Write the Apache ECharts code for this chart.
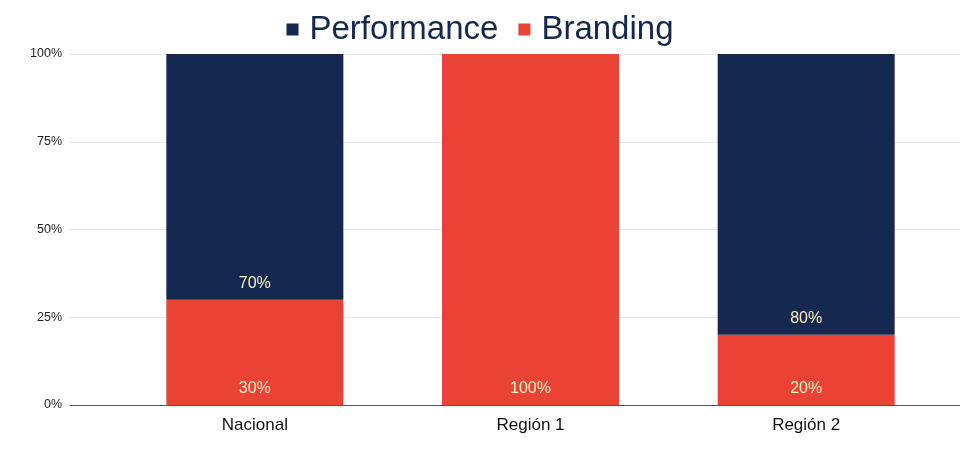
<!DOCTYPE html>
<html><head><meta charset="utf-8">
<script src="https://cdn.jsdelivr.net/npm/echarts@6/dist/echarts.min.js"></script>
<style>html,body{margin:0;padding:0;background:#fff}#c{width:960px;height:452px}</style>
</head><body><div id="c"></div>
<script>
const categories = ['Nacional', 'Región 1', 'Región 2'];
const branding = [30, 100, 20];
const performance = [70, 0, 80];
const yTicks = [0, 25, 50, 75, 100];

const F = 'Liberation Sans, Arial, sans-serif';
const chart = echarts.init(document.getElementById('c'));
const lbl = {
  show: true, position: 'insideBottom', distance: 8,
  color: '#fbf1c6', fontSize: 16, fontFamily: F,
  formatter: p => p.value > 0 ? p.value + '%' : ''
};
chart.setOption({
  animation: false,
  legend: {
    top: 8, left: 'center', itemWidth: 12, itemHeight: 12, itemGap: 20,
    icon: 'rect',
    textStyle: { fontSize: 33, color: '#14284f', fontFamily: F, padding: [0,0,0,6] },
    data: ['Performance', 'Branding']
  },
  grid: [
    { left: 117, right: 16, top: 54, bottom: 47 },
    { left: 70, right: 0, top: 54, bottom: 47 }
  ],
  xAxis: [
    { type: 'category', gridIndex: 0, data: categories,
      axisLine: { show: false }, axisTick: { show: false },
      axisLabel: { fontSize: 17, color: '#111', fontFamily: F, margin: 12 } },
    { type: 'category', gridIndex: 1, data: [''],
      axisLine: { show: true, lineStyle: { color: '#4f5568', width: 1 } },
      axisTick: { show: false }, axisLabel: { show: false } }
  ],
  yAxis: [
    { type: 'value', gridIndex: 0, min: 0, max: 100, interval: 25, show: false },
    { type: 'value', gridIndex: 1, min: yTicks[0], max: yTicks[yTicks.length-1], interval: 25,
      axisLine: { show: false }, axisTick: { show: false },
      axisLabel: { formatter: '{value}%', fontSize: 12.5, color: '#222', fontFamily: F, margin: 8 },
      splitLine: { lineStyle: { color: '#ebe6d8', width: 1 } } }
  ],
  series: [
    { name: 'Branding', type: 'bar', stack: 's', data: branding, barWidth: 177,
      xAxisIndex: 0, yAxisIndex: 0, itemStyle: { color: '#eb4236' }, label: lbl },
    { name: 'Performance', type: 'bar', stack: 's', data: performance, barWidth: 177,
      xAxisIndex: 0, yAxisIndex: 0, itemStyle: { color: '#142850' }, label: lbl }
  ]
});
</script></body></html>
